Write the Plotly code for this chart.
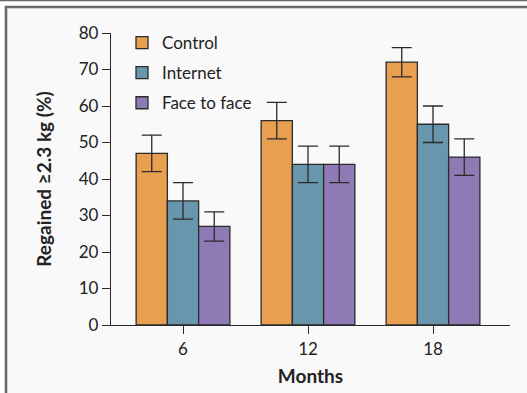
import plotly.graph_objects as go

months = ["6", "12", "18"]
series_names = ["Control", "Internet", "Face to face"]
control = [47, 56, 72]
internet = [34, 44, 55]
face_to_face = [27, 44, 46]
control_err = [5, 5, 4]
internet_err = [5, 5, 5]
face_err = [4, 5, 5]
colors = ["#E89F50", "#6897AD", "#8E7BB6"]
y_ticks = [0, 10, 20, 30, 40, 50, 60, 70, 80]

FONT = "Lato"
W, H = 527, 393
L, R, T, B = 111, 17, 33, 68
pw, ph = W - L - R, H - T - B

def px_x(px):
    return (px - L) / pw

def px_y(py):
    return (H - B - py) / ph

fig = go.Figure()
for i, (name, vals, err) in enumerate(zip(series_names, [control, internet, face_to_face],
                                           [control_err, internet_err, face_err])):
    fig.add_trace(go.Bar(
        x=months, y=vals, name=name, legendgroup=name,
        marker=dict(color=colors[i], line=dict(color="#2a2a2a", width=1.3)),
        error_y=dict(type="data", array=err, visible=True, color="#2a2a2a",
                     thickness=1.3, width=10),
    ))

shapes = [
    dict(type="rect", xref="paper", yref="paper", x0=px_x(6), x1=px_x(W + 5),
         y0=px_y(H + 5), y1=px_y(7), fillcolor="#f9f9f9", line=dict(width=0), layer="below"),
    dict(type="line", xref="paper", yref="paper", x0=px_x(-5), x1=px_x(W + 5),
         y0=px_y(0.5), y1=px_y(0.5), line=dict(color="#6a6a6a", width=1.4)),
    dict(type="line", xref="paper", yref="paper", x0=px_x(5), x1=px_x(W + 5),
         y0=px_y(7), y1=px_y(7), line=dict(color="#6a6a6a", width=2.6)),
    dict(type="line", xref="paper", yref="paper", x0=px_x(6), x1=px_x(6),
         y0=px_y(6), y1=px_y(H + 5), line=dict(color="#6a6a6a", width=2.6)),
]

fig.update_layout(
    width=W, height=H,
    margin=dict(l=L, r=R, t=T, b=B, pad=0, autoexpand=False),
    paper_bgcolor="white", plot_bgcolor="#f9f9f9",
    font=dict(family=FONT, size=17, color="#222"),
    barmode="group", bargap=0.25, bargroupgap=0,
    showlegend=True,
    legend=dict(x=px_x(122), y=px_y(25), xanchor="left", yanchor="top",
                bgcolor="rgba(0,0,0,0)", font=dict(size=17, color="#222"),
                tracegroupgap=5, traceorder="grouped"),
    shapes=shapes,
    xaxis=dict(type="category", range=[-0.576, 2.616], showline=True, linecolor="#2a2a2a",
               linewidth=1.3, ticks="outside", ticklen=8, tickcolor="#2a2a2a", tickwidth=1.3,
               showgrid=False, zeroline=False, automargin=False,
               title=dict(text="<b>Months</b>", font=dict(size=19), standoff=12)),
    yaxis=dict(range=[0, 80], tickvals=y_ticks, showline=True, linecolor="#2a2a2a",
               linewidth=1.3, ticks="outside", ticklen=8, tickcolor="#2a2a2a", tickwidth=1.3,
               showgrid=False, zeroline=False, automargin=False,
               title=dict(text="<b>Regained ≥2.3 kg (%)</b>", font=dict(size=19), standoff=22)),
)

fig.write_html("out.html", config={"displayModeBar": False},
               post_script="document.body.style.margin='0';document.body.style.overflow='hidden';")
